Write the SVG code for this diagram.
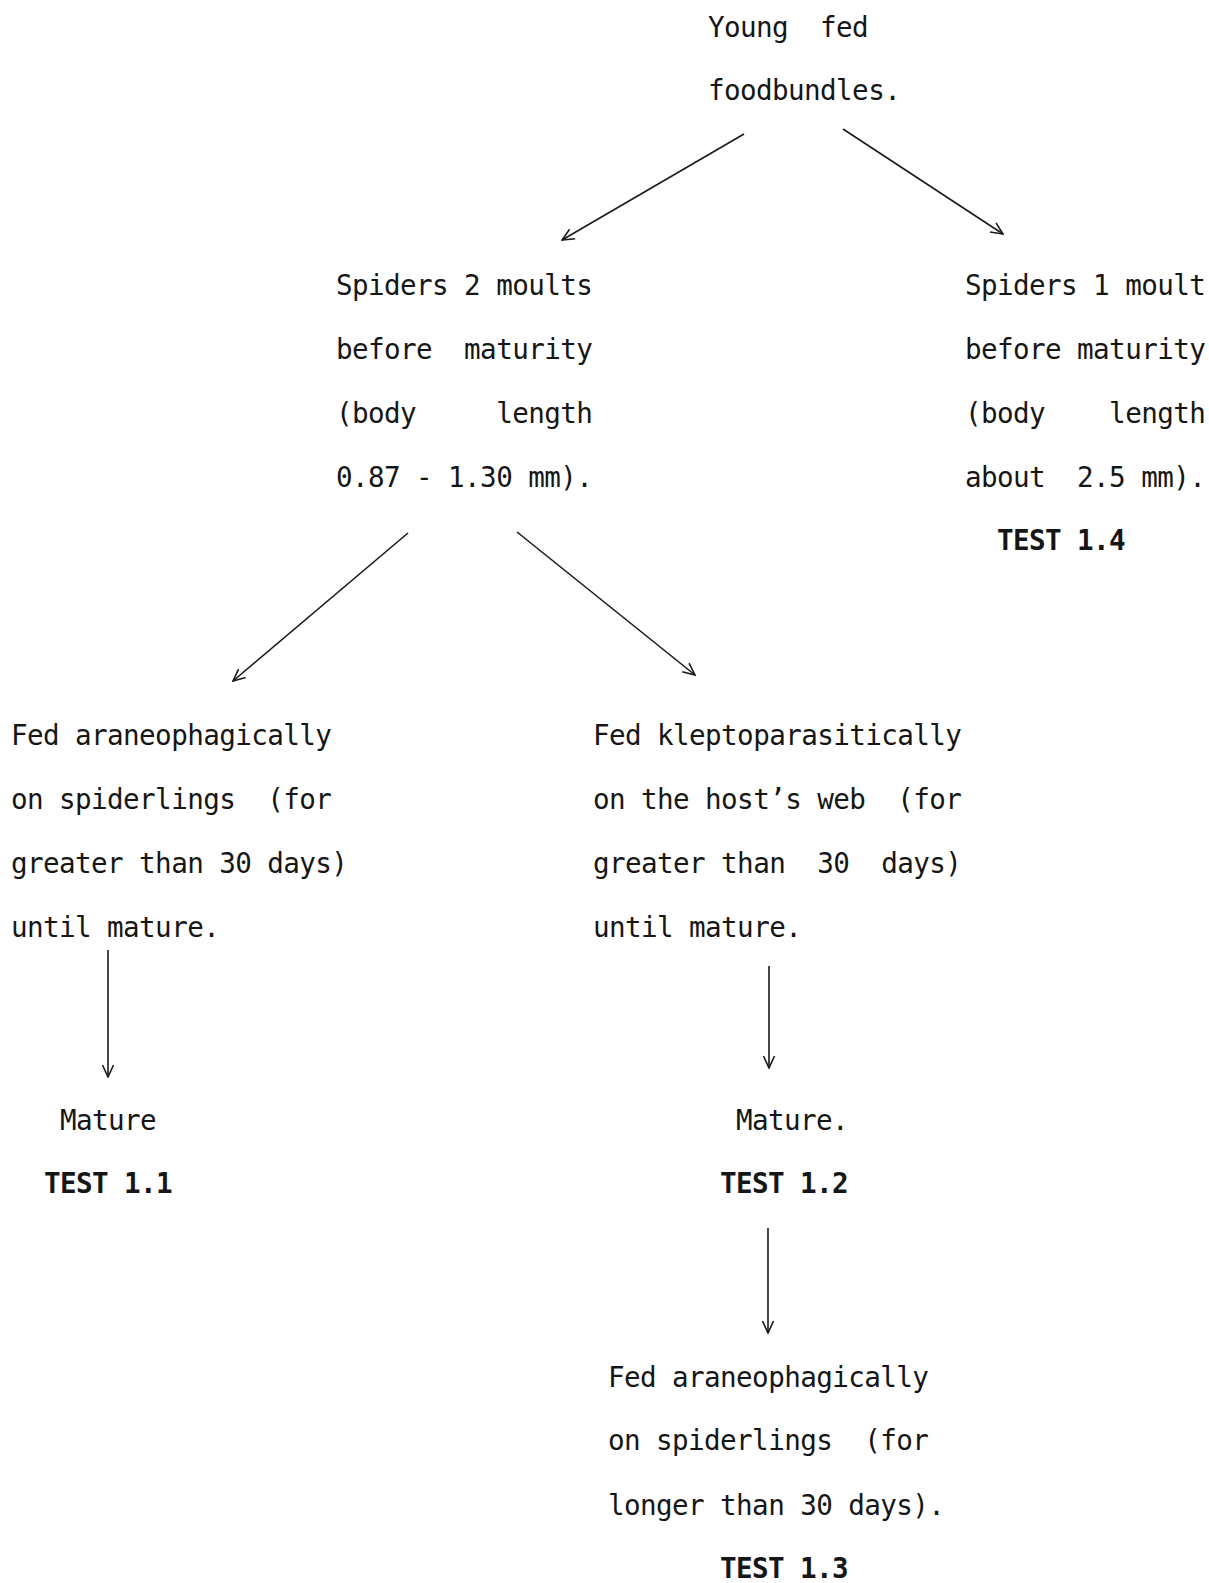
<svg xmlns="http://www.w3.org/2000/svg" width="1209" height="1583" viewBox="0 0 1209 1583">
<style>
  text { font-family: "DejaVu Sans Mono", "Liberation Mono", monospace; font-size: 27.6px; letter-spacing: -0.6px; fill: #161616; white-space: pre; }
  .b { font-weight: bold; }
  .c line { stroke: #1a1a1a; stroke-width: 1.6; fill: none; marker-end: url(#ah); }
</style>
<defs>
  <marker id="ah" viewBox="0 0 14 14" refX="13" refY="7" markerWidth="14" markerHeight="14" markerUnits="userSpaceOnUse" orient="auto">
    <path d="M1,1.5 L13,7 L1,12.5" fill="none" stroke="#1a1a1a" stroke-width="1.6"/>
  </marker>
</defs>
<rect width="1209" height="1583" fill="#ffffff"/>

<g id="young">
  <text x="708" y="37" xml:space="preserve">Young  fed</text>
  <text x="708" y="100">foodbundles.</text>
</g>

<g id="two-moults">
  <text x="336" y="295">Spiders 2 moults</text>
  <text x="336" y="359" xml:space="preserve">before  maturity</text>
  <text x="336" y="423" xml:space="preserve">(body     length</text>
  <text x="336" y="487">0.87 - 1.30 mm).</text>
</g>

<g id="one-moult">
  <text x="965" y="295">Spiders 1 moult</text>
  <text x="965" y="359">before maturity</text>
  <text x="965" y="423" xml:space="preserve">(body    length</text>
  <text x="965" y="487" xml:space="preserve">about  2.5 mm).</text>
  <text class="b" x="997" y="550">TEST 1.4</text>
</g>

<g id="araneo-1">
  <text x="11" y="745">Fed araneophagically</text>
  <text x="11" y="809" xml:space="preserve">on spiderlings  (for</text>
  <text x="11" y="873">greater than 30 days)</text>
  <text x="11" y="937">until mature.</text>
</g>

<g id="klepto">
  <text x="593" y="745">Fed kleptoparasitically</text>
  <text x="593" y="809" xml:space="preserve">on the host’s web  (for</text>
  <text x="593" y="873" xml:space="preserve">greater than  30  days)</text>
  <text x="593" y="937">until mature.</text>
</g>

<g id="mature-1">
  <text x="60" y="1130">Mature</text>
  <text class="b" x="44" y="1193">TEST 1.1</text>
</g>

<g id="mature-2">
  <text x="736" y="1130">Mature.</text>
  <text class="b" x="720" y="1193">TEST 1.2</text>
</g>

<g id="araneo-2">
  <text x="608" y="1387">Fed araneophagically</text>
  <text x="608" y="1450" xml:space="preserve">on spiderlings  (for</text>
  <text x="608" y="1515">longer than 30 days).</text>
  <text class="b" x="720" y="1578">TEST 1.3</text>
</g>

<g id="connectors" class="c">
  <line x1="744" y1="134" x2="562" y2="240"/>
  <line x1="843" y1="129" x2="1003" y2="234"/>
  <line x1="408" y1="533" x2="233" y2="681"/>
  <line x1="517" y1="532" x2="695" y2="675"/>
  <line x1="108" y1="950" x2="108" y2="1077"/>
  <line x1="769" y1="966" x2="769" y2="1068"/>
  <line x1="768" y1="1228" x2="768" y2="1333"/>
</g>
</svg>
